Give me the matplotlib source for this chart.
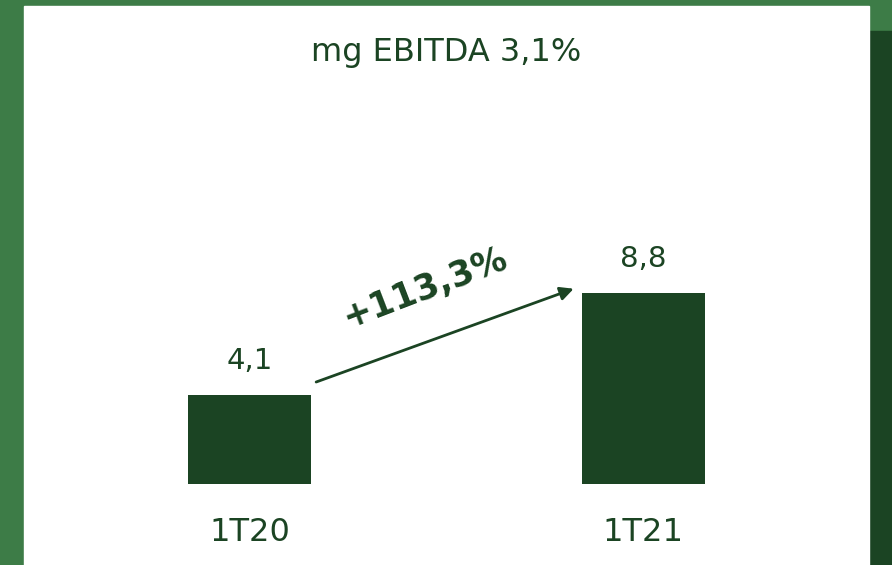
import matplotlib
matplotlib.use("Agg")
import matplotlib.pyplot as plt
from matplotlib.patches import Rectangle

categories = ["1T20", "1T21"]
values = [4.1, 8.8]
value_labels = ["4,1", "8,8"]
title = "mg EBITDA 3,1%"
growth_label = "+113,3%"

DARK = "#1B4423"
LIGHT = "#3D7C47"

W, H = 892, 565
fig = plt.figure(figsize=(W / 100, H / 100), dpi=100, facecolor=LIGHT)
plt.rcParams['font.family'] = ['DejaVu Sans']

# dark strip on the right
fig.patches.append(Rectangle((869 / W, 0), (W - 869) / W, (H - 31) / H,
                             transform=fig.transFigure, color=DARK, zorder=-2))
# white panel
fig.patches.append(Rectangle((24 / W, 0), (869 - 24) / W, (H - 6) / H,
                             transform=fig.transFigure, color="white", zorder=-2))

left, right = 24 / W, 869 / W
bottom, top = (H - 484) / H, (H - 6) / H
ax = fig.add_axes([left, bottom, right - left, top - bottom])
ax.set_facecolor("none")
ax.set_zorder(1)
for s in ax.spines.values():
    s.set_visible(False)

x = [0, 1]
bw = 0.3126
ax.bar(x, values, width=bw, color=DARK, zorder=2)
ax.set_xlim(-0.573, 1.574)
ax.set_ylim(0, 22.03)
ax.set_yticks([])
ax.set_xticks(x)
ax.set_xticklabels(categories, fontsize=23, color=DARK)
ax.tick_params(axis='x', length=0, pad=24)

for xi, v, lab in zip(x, values, value_labels):
    ax.annotate(lab, (xi, v), xytext=(0, 19), textcoords="offset points",
                ha="center", va="baseline", fontsize=21, color=DARK)

# growth arrow
x0 = x[0] + bw / 2 + 0.013
x1 = x[1] - bw / 2 - 0.02
y0 = values[0] + 0.6
y1 = values[1] + 0.2
ax.annotate("", xy=(x1, y1), xytext=(x0, y0),
            arrowprops=dict(arrowstyle="-|>", color=DARK, lw=2,
                            mutation_scale=20, shrinkA=0, shrinkB=0))
ax.text((x0 + x1) / 2 - 0.05, (y0 + y1) / 2 + 2.2, growth_label,
        rotation=21, ha="center", va="center", fontsize=25,
        fontweight="bold", color=DARK, rotation_mode="anchor")

fig.text((24 + 869) / 2 / W, 1 - 53 / H, title, ha="center", va="center",
         fontsize=23, color=DARK)

fig.savefig("out.png", dpi=100, facecolor=LIGHT)
